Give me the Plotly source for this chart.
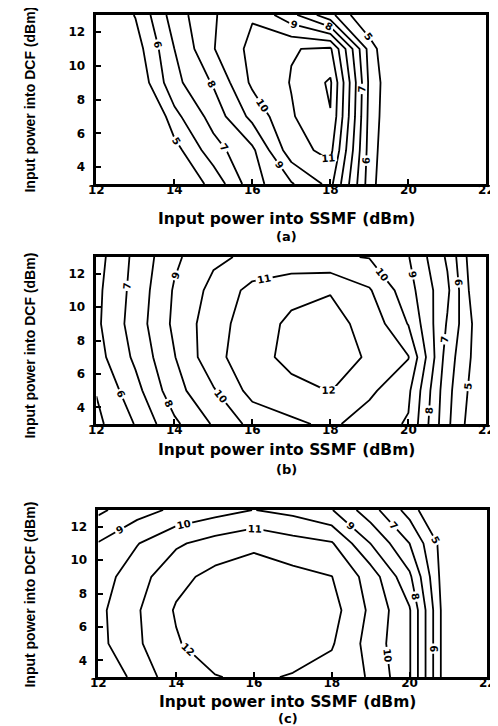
import plotly.graph_objects as go

# Grid: input power into SSMF (x) and into DCF (y), dBm
ssmf_dbm = [12, 13, 14, 15, 16, 17, 18, 19, 20, 21, 22]
dcf_dbm = [3, 5, 7, 9, 11, 13]

# Q-factor contours (rows follow dcf_dbm, columns ssmf_dbm)
q_a = [
    [2.0, 3.0, 4.0, 5.3, 7.6, 8.9, 10.3, 5.5, 2.5, 2.0, 1.5],
    [2.8, 3.6, 4.6, 6.6, 7.8, 10.6, 11.3, 5.6, 2.8, 2.2, 1.8],
    [1.5, 2.5, 5.7, 7.4, 9.3, 10.9, 11.95, 5.7, 3.0, 2.4, 2.0],
    [3.0, 4.08, 6.7, 8.1, 10.2, 11.05, 12.15, 5.8, 3.0, 2.4, 2.0],
    [3.5, 4.5, 7.0, 8.95, 10.3, 10.95, 11.15, 5.6, 2.5, 2.0, 1.8],
    [3.8, 5.05, 7.5, 8.9, 9.9, 8.3, 6.3, 3.8, 2.5, 2.0, 1.8],
]
q_b = [
    [4.75, 6.05, 7.8, 9.1, 10.3, 10.8, 11.2, 10.5, 9.9, 6.2, 3.5],
    [5.05, 6.65, 8.6, 9.9, 11.35, 11.7, 12.03, 11.2, 10.2, 6.3, 3.8],
    [5.6, 7.2, 8.95, 10.7, 11.6, 12.3, 12.4, 11.9, 11.05, 6.5, 4.0],
    [5.8, 7.47, 9.2, 10.6, 11.5, 12.2, 12.3, 11.7, 9.95, 6.9, 3.9],
    [5.75, 7.35, 9.1, 10.3, 11.3, 11.7, 11.95, 11.1, 9.4, 7.2, 3.2],
    [5.6, 7.25, 8.8, 9.8, 10.2, 10.3, 10.15, 9.95, 9.05, 6.85, 3.1],
]
q_c = [
    [9.4, 10.21, 11.73, 11.95, 12.2, 11.9, 11.6, 10.9, 9.1, 4.0, 3.0],
    [9.7, 10.85, 11.9, 12.6, 12.8, 12.7, 12.1, 10.6, 9.1, 4.0, 3.0],
    [9.75, 10.9, 12.1, 12.7, 12.8, 12.7, 12.4, 10.8, 9.1, 4.0, 3.0],
    [9.5, 10.6, 11.7, 12.3, 12.5, 12.3, 12.02, 10.56, 8.2, 4.0, 3.0],
    [9.05, 9.95, 10.85, 11.4, 11.8, 11.4, 11.1, 8.98, 7.0, 4.2, 3.0],
    [7.8, 8.6, 9.2, 9.6, 10.02, 9.7, 9.05, 7.4, 5.6, 3.0, 2.5],
]

x_ticks = [12, 14, 16, 18, 20, 22]
y_ticks = [4, 6, 8, 10, 12]
panel_tags = ["(a)", "(b)", "(c)"]
x_title = "Input power into SSMF (dBm)"
y_title = "Input power into DCF (dBm)"

W, H = 498, 726
# pixel boxes of the three plot areas: (left, right, top, bottom)
boxes = [(83, 486, 7, 176), (83, 486, 249, 416), (85, 487, 502, 669)]
xtitle_y = [211, 442, 694]
tag_y = [228, 461, 710]
ytitle_y = [92, 338, 587]

FONT = "Liberation Sans, Arial, sans-serif"
WIDE = "DejaVu Sans, Verdana, sans-serif"

fig = go.Figure()
for i, q in enumerate([q_a, q_b, q_c]):
    n = "" if i == 0 else str(i + 1)
    fig.add_trace(go.Contour(
        x=ssmf_dbm, y=dcf_dbm, z=q,
        xaxis="x" + n, yaxis="y" + n,
        autocontour=False,
        contours=dict(start=5, end=12, size=1, coloring="none",
                      showlabels=True,
                      labelfont=dict(family=WIDE, size=10, color="black", weight="bold")),
        line=dict(color="black", width=1.8, smoothing=0),
        showscale=False, hoverinfo="skip",
    ))
    l, r, t, b = boxes[i]
    common = dict(showline=True, mirror=True, linecolor="black", linewidth=2.5,
                  ticks="inside", ticklen=5, tickwidth=1.5, tickcolor="black",
                  showgrid=False, zeroline=False, ticklabeloverflow="allow",
                  tickfont=dict(family=WIDE, size=12, color="black", weight="bold"))
    fig.update_layout(**{
        "xaxis" + n: dict(domain=[l / W, r / W], range=[12, 22], tickvals=x_ticks,
                          anchor="y" + n, ticklabelstandoff=-7, **common),
        "yaxis" + n: dict(domain=[1 - b / H, 1 - t / H], range=[3, 13], tickvals=y_ticks,
                          anchor="x" + n, ticklabelstandoff=6, **common),
    })
    fig.add_annotation(x=(l + r) / 2 / W - 0.01, y=1 - xtitle_y[i] / H, xref="paper", yref="paper",
                       text=x_title, showarrow=False, xanchor="center", yanchor="middle",
                       font=dict(family=WIDE, size=15.5, color="black", weight="bold"))
    fig.add_annotation(x=(l + r) / 2 / W - 0.01, y=1 - tag_y[i] / H, xref="paper", yref="paper",
                       text=panel_tags[i], showarrow=False, xanchor="center", yanchor="middle",
                       font=dict(family=WIDE, size=13, color="black", weight="bold"))
    fig.add_annotation(x=14 / W, y=1 - ytitle_y[i] / H, xref="paper", yref="paper",
                       text=y_title, showarrow=False, textangle=-90,
                       xanchor="center", yanchor="middle",
                       font=dict(family=FONT, size=14, color="black", weight="bold"))

fig.update_layout(width=W, height=H, margin=dict(l=0, r=0, t=0, b=0),
                  paper_bgcolor="white", plot_bgcolor="white", showlegend=False)
fig.write_html("out.html")
